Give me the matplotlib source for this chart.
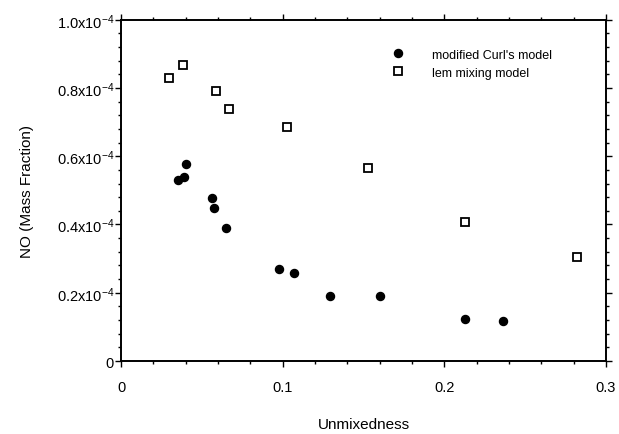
import matplotlib.pyplot as plt
from matplotlib.ticker import MultipleLocator, FixedLocator

plt.rcParams['font.family'] = ['Liberation Sans', 'DejaVu Sans']
plt.rcParams['mathtext.default'] = 'regular'

# modified Curl's model
curl_x = [0.0353, 0.0390, 0.0404, 0.0563, 0.0575, 0.0651, 0.0980, 0.1073, 0.1295, 0.1604, 0.2128, 0.2363]
curl_y = [0.531, 0.540, 0.578, 0.477, 0.448, 0.389, 0.270, 0.258, 0.190, 0.191, 0.122, 0.118]

# lem mixing model
lem_x = [0.0295, 0.0384, 0.0585, 0.0668, 0.1028, 0.1526, 0.2128, 0.2822]
lem_y = [0.830, 0.866, 0.790, 0.739, 0.687, 0.565, 0.408, 0.304]

x_ticks = [0, 0.1, 0.2, 0.3]
x_labels = ['0', '0.1', '0.2', '0.3']
y_ticks = [0, 0.2, 0.4, 0.6, 0.8, 1.0]
y_labels = ['0', '0.2x10$^{-4}$', '0.4x10$^{-4}$', '0.6x10$^{-4}$', '0.8x10$^{-4}$', '1.0x10$^{-4}$']

fig = plt.figure(figsize=(6.19, 4.35), dpi=100)
ax = fig.add_axes([0.1955, 0.1678, 0.7835, 0.7846])

ax.plot(curl_x, curl_y, 'o', color='black', markersize=5.8, label="modified Curl's model")
ax.plot(lem_x, lem_y, 's', markerfacecolor='white', markeredgecolor='black',
        markeredgewidth=1.3, markersize=5.2, label='lem mixing model')

ax.set_xlim(0, 0.3)
ax.set_ylim(0, 1.0)
ax.xaxis.set_major_locator(FixedLocator(x_ticks))
ax.set_xticklabels(x_labels)
ax.xaxis.set_minor_locator(MultipleLocator(0.02))
ax.yaxis.set_major_locator(FixedLocator(y_ticks))
ax.set_yticklabels(y_labels)
ax.yaxis.set_minor_locator(MultipleLocator(0.04))

for s in ax.spines.values():
    s.set_linewidth(1.4)
ax.tick_params(which='both', direction='out', top=True, right=True, width=1.0, labelsize=10.5)
ax.tick_params(which='major', length=4)
ax.tick_params(which='minor', length=2.5)
ax.tick_params(axis='x', which='major', pad=10)
ax.tick_params(axis='y', which='major', pad=1)

ax.set_xlabel('Unmixedness', fontsize=11, labelpad=16)
ax.set_ylabel('NO (Mass Fraction)', fontsize=11, labelpad=16)

ax.legend(loc='upper left', bbox_to_anchor=(0.535, 0.93), frameon=False, fontsize=9,
          handletextpad=1.7, labelspacing=0.5, borderaxespad=0)

fig.savefig('out.png', dpi=100)
plt.close(fig)
